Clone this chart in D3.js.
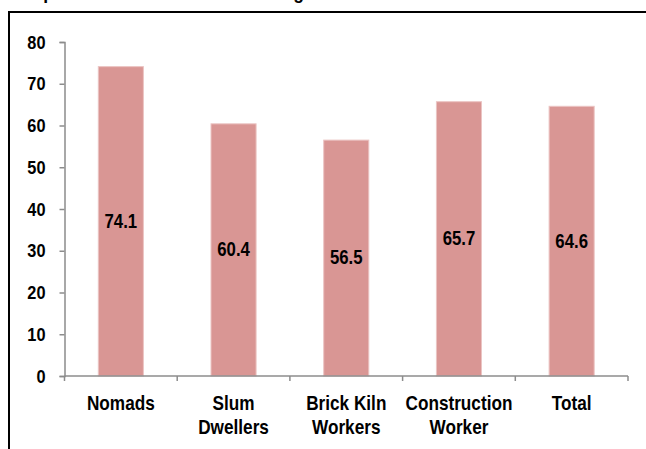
<!DOCTYPE html>
<html>
<head>
<meta charset="utf-8">
<script src="https://cdn.jsdelivr.net/npm/d3@7"></script>
<style>
  html, body { margin: 0; padding: 0; background: #fff; }
  svg { display: block; }
  text { font-family: "Liberation Sans", Arial, sans-serif; font-weight: bold; fill: #000; }
</style>
</head>
<body>
<svg id="chart" width="646" height="449"></svg>
<script>
// Chart data
const categories = ["Nomads", "Slum Dwellers", "Brick Kiln Workers", "Construction Worker", "Total"];
const categoryLines = [["Nomads"], ["Slum", "Dwellers"], ["Brick Kiln", "Workers"], ["Construction", "Worker"], ["Total"]];
const values = [74.1, 60.4, 56.5, 65.7, 64.6];
const yTicks = [0, 10, 20, 30, 40, 50, 60, 70, 80];
const titleText = "Graph 3: School Enrolment Among Children";

const svg = d3.select("#chart");
const W = 646, H = 449;
const NARROW = 0.86; // horizontal squeeze giving a narrow bold face

// plot area
const plotLeft = 64.5, plotRight = 628, plotTop = 42, plotBottom = 376;

const x = d3.scaleBand().domain(categories).range([plotLeft, plotRight]).paddingInner(0.6).paddingOuter(0.3);
const y = d3.scaleLinear().domain([0, 80]).range([plotBottom, plotTop]);

// place a narrow text at (px, py)
function narrow(sel, px, py) {
  return sel.attr("x", 0).attr("y", 0)
    .attr("transform", (d, i) => `translate(${px(d, i)},${py(d, i)}) scale(${NARROW},1)`);
}

// title line (mostly above the visible area)
svg.append("text")
  .attr("x", 13).attr("y", -1)
  .style("font-size", "17.5px")
  .text(titleText);

// frame
svg.append("path")
  .attr("d", `M9,${H} V12 H${W}`)
  .attr("fill", "none").attr("stroke", "#000").attr("stroke-width", 2);

// bars
svg.append("g").selectAll("rect").data(values).join("rect")
  .attr("x", (d, i) => x(categories[i]))
  .attr("y", d => y(d))
  .attr("width", x.bandwidth())
  .attr("height", d => y(0) - y(d))
  .attr("fill", "#d99694")
  .attr("stroke", "#ebc4c3")
  .attr("stroke-width", 1);

// value labels centred inside bars
narrow(svg.append("g").selectAll("text").data(values).join("text"),
    (d, i) => x(categories[i]) + x.bandwidth() / 2,
    d => (y(d) + y(0)) / 2)
  .attr("text-anchor", "middle")
  .attr("dominant-baseline", "central")
  .style("font-size", "19.5px")
  .text(d => d.toFixed(1));

// y axis
const yAxis = d3.axisLeft(y).tickValues(yTicks).tickSize(5).tickPadding(14).tickFormat(d3.format("d"));
const gy = svg.append("g").attr("transform", `translate(${plotLeft},0)`).call(yAxis);
gy.attr("font-family", null).attr("font-size", null);
gy.select(".domain").attr("stroke", "#8c8c8c").attr("stroke-width", 1.5);
gy.selectAll(".tick line").attr("stroke", "#8c8c8c").attr("stroke-width", 1.5);
gy.selectAll(".tick text")
  .style("font-size", "19px")
  .attr("fill", "#000")
  .each(function () {
    const t = d3.select(this);
    t.attr("x", +t.attr("x") / NARROW).attr("transform", `scale(${NARROW},1)`);
  });

// x axis with ticks at category boundaries
const step = x.step();
const boundaries = d3.range(categories.length + 1).map(i => i === categories.length
  ? x(categories[i - 1]) + x.bandwidth() + step * x.paddingInner() / 2
  : x(categories[i]) - step * x.paddingInner() / 2);
const gx = svg.append("g");
gx.append("line")
  .attr("x1", plotLeft).attr("x2", plotRight).attr("y1", y(0)).attr("y2", y(0))
  .attr("stroke", "#8c8c8c").attr("stroke-width", 1.5);
gx.selectAll("line.tk").data(boundaries).join("line").attr("class", "tk")
  .attr("x1", d => d).attr("x2", d => d)
  .attr("y1", y(0)).attr("y2", y(0) + 5)
  .attr("stroke", "#8c8c8c").attr("stroke-width", 1.5);

// category labels
const lab = narrow(svg.append("g").selectAll("text").data(categoryLines).join("text"),
    (d, i) => x(categories[i]) + x.bandwidth() / 2,
    () => 410)
  .attr("text-anchor", "middle")
  .style("font-size", "20px");
lab.selectAll("tspan").data(d => d).join("tspan")
  .attr("x", 0)
  .attr("dy", (d, i) => i === 0 ? 0 : 24.5)
  .text(d => d);
</script>
</body>
</html>
